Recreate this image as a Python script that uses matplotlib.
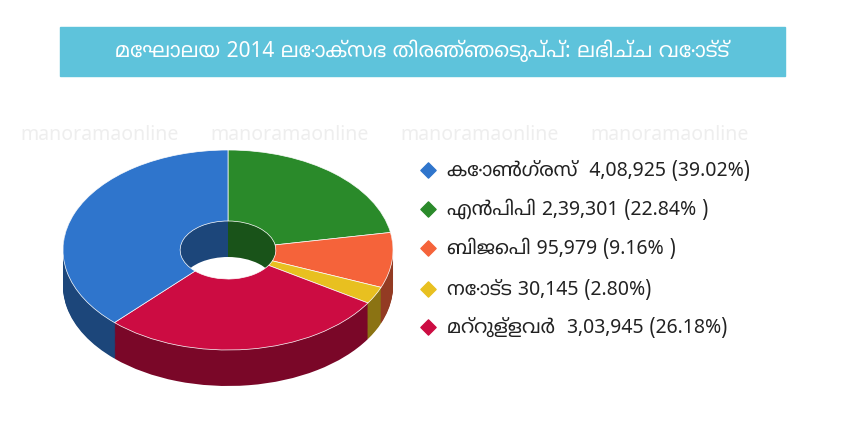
import matplotlib
matplotlib.use("Agg")
import matplotlib.pyplot as plt
from matplotlib.colors import to_rgb
import numpy as np

plt.rcParams['font.family'] = ['Noto Sans Malayalam', 'Noto Sans', 'DejaVu Sans']

title = "മേഘാലയ 2014 ലോക്സഭ തിരഞ്ഞെടുപ്പ്: ലഭിച്ച വോട്ട്"
parties = ["എൻപിപി", "ബിജെപി", "നോട്ട", "മറ്റുള്ളവർ", "കോൺഗ്രസ്"]
votes = [239301, 95979, 30145, 303945, 408925]
labels = ["എൻപിപി 2,39,301 (22.84% )", "ബിജെപി 95,979 (9.16% )", "നോട്ട 30,145 (2.80%)",
          "മറ്റുള്ളവർ  3,03,945 (26.18%)", "കോൺഗ്രസ്  4,08,925 (39.02%)"]
colors = ["#2a8a2a", "#f5633a", "#e8c020", "#cc0c42", "#2f75cc"]

W, H = 845, 440
fig = plt.figure(figsize=(W/100, H/100), dpi=100)
bg = fig.add_axes([0, 0, 1, 1]); bg.set_xlim(0, W); bg.set_ylim(H, 0); bg.axis('off')
bg.add_patch(plt.Rectangle((60, 27), 725, 49, color="#5ec3db"))
bg.text(422, 51, title, ha='center', va='center', fontsize=15, color='white', fontweight='bold')
for x in [40, 230, 420, 610]:
    bg.text(x+60, 135, "manoramaonline", ha='center', va='center', fontsize=14, color='#eeeeee')

cx, cy, rx, ry, depth = 228, 250, 165, 100, 36
ax = fig.add_axes([(cx - 1.03*rx)/W, (H - (cy + 1.4*ry))/H, 2.06*rx/W, 2.45*ry/H])
ax.set_xlim(-1.03, 1.03); ax.set_ylim(-1.4, 1.05); ax.set_aspect('auto'); ax.axis('off')
dark = [tuple(np.array(to_rgb(c))*0.6) for c in colors]
d = depth/ry
for off in np.linspace(d, 0.005, 40):
    ax.pie(votes, colors=dark, startangle=90, counterclock=False, center=(0, -off),
           wedgeprops=dict(width=0.71, linewidth=0), frame=True)
ax.pie(votes, colors=colors, startangle=90, counterclock=False, center=(0, 0),
       wedgeprops=dict(width=0.71, linewidth=0.5, edgecolor='white'), frame=True)
ax.set_xlim(-1.03, 1.03); ax.set_ylim(-1.4, 1.05); ax.set_aspect('auto'); ax.axis('off')

order = [4, 0, 1, 2, 3]
ys = [170, 209, 248, 289, 327]
for i, y in zip(order, ys):
    bg.scatter([428], [y], marker='D', s=60, color=colors[i])
    bg.text(447, y, labels[i], va='center', ha='left', fontsize=14, color='#222222')

fig.savefig("out.png", dpi=100)
